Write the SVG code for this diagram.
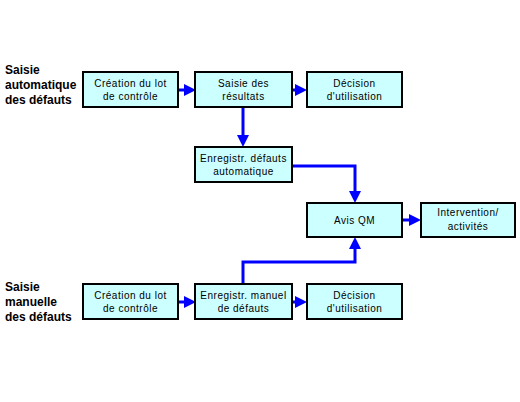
<svg xmlns="http://www.w3.org/2000/svg" width="520" height="402" viewBox="0 0 520 402">
<style>
.box{fill:#ccffff;stroke:#000;stroke-width:2}
.t{font-family:"Liberation Sans",Arial,sans-serif;font-size:10px;letter-spacing:0.5px;text-anchor:middle;fill:#000}
.lbl{font-family:"Liberation Sans",Arial,sans-serif;font-size:12px;font-weight:bold;fill:#000}
.c{fill:none;stroke:#0000ff;stroke-width:3}
</style>
<defs>
<marker id="ah" markerWidth="4" markerHeight="4" refX="0" refY="2" orient="auto" markerUnits="strokeWidth">
<path d="M0,0 L4,2 L0,4 Z" fill="#0000ff"/>
</marker>
</defs>
<rect width="520" height="402" fill="#fff"/>
<g id="labels">
<text class="lbl" x="5" y="74">Saisie</text>
<text class="lbl" x="5" y="89">automatique</text>
<text class="lbl" x="5" y="104">des défauts</text>
<text class="lbl" x="5" y="291">Saisie</text>
<text class="lbl" x="5" y="306">manuelle</text>
<text class="lbl" x="5" y="321">des défauts</text>
</g>
<g id="connectors">
<line class="c" x1="178" y1="90" x2="184" y2="90" marker-end="url(#ah)"/>
<line class="c" x1="292" y1="90" x2="295" y2="90" marker-end="url(#ah)"/>
<line class="c" x1="243" y1="107" x2="243" y2="135" marker-end="url(#ah)"/>
<polyline class="c" points="292,166 355,166 355,191" marker-end="url(#ah)"/>
<line class="c" x1="402" y1="220" x2="409" y2="220" marker-end="url(#ah)"/>
<polyline class="c" points="243,283 243,262 355,262 355,249" marker-end="url(#ah)"/>
<line class="c" x1="178" y1="302" x2="184" y2="302" marker-end="url(#ah)"/>
<line class="c" x1="292" y1="302" x2="295" y2="302" marker-end="url(#ah)"/>
</g>
<g id="n1"><rect class="box" x="83" y="72" width="95" height="35"/><text class="t" x="130.5" y="87">Création du lot</text><text class="t" x="130.5" y="100">de contrôle</text></g>
<g id="n2"><rect class="box" x="195" y="72" width="97" height="35"/><text class="t" x="243.5" y="87">Saisie des</text><text class="t" x="243.5" y="100">résultats</text></g>
<g id="n3"><rect class="box" x="307" y="72" width="95" height="35"/><text class="t" x="354.5" y="87">Décision</text><text class="t" x="354.5" y="100">d'utilisation</text></g>
<g id="n4"><rect class="box" x="195" y="147" width="97" height="35"/><text class="t" x="243.5" y="162">Enregistr. défauts</text><text class="t" x="243.5" y="175">automatique</text></g>
<g id="n5"><rect class="box" x="307" y="203" width="95" height="34"/><text class="t" x="354.5" y="224">Avis QM</text></g>
<g id="n6"><rect class="box" x="421" y="203" width="94" height="34"/><text class="t" x="468" y="216">Intervention/</text><text class="t" x="468" y="230">activités</text></g>
<g id="n7"><rect class="box" x="83" y="284" width="95" height="35"/><text class="t" x="130.5" y="299">Création du lot</text><text class="t" x="130.5" y="312">de contrôle</text></g>
<g id="n8"><rect class="box" x="195" y="284" width="97" height="35"/><text class="t" x="243.5" y="299">Enregistr. manuel</text><text class="t" x="243.5" y="312">de défauts</text></g>
<g id="n9"><rect class="box" x="307" y="284" width="95" height="35"/><text class="t" x="354.5" y="299">Décision</text><text class="t" x="354.5" y="312">d'utilisation</text></g>
</svg>
